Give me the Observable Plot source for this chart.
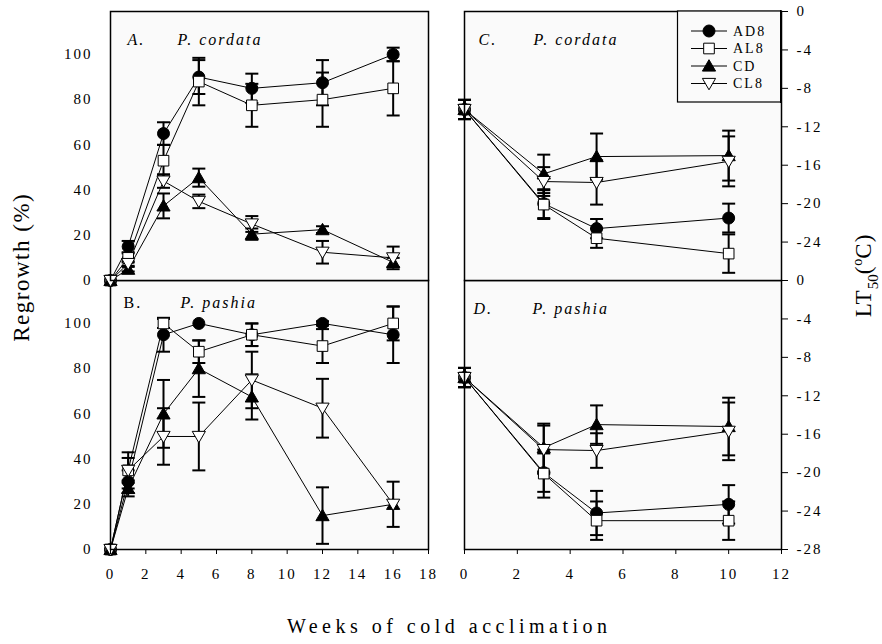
<!DOCTYPE html>
<html><head><meta charset="utf-8">
<script src="https://cdn.jsdelivr.net/npm/d3@7"></script>
<script src="https://cdn.jsdelivr.net/npm/@observablehq/plot@0.6"></script>
<style>
body{margin:0;background:#fff;}
#root{position:relative;width:882px;height:644px;background:#fff;font-family:"Liberation Serif","DejaVu Serif","Times New Roman",serif;color:#000;overflow:hidden;}
.panel{position:absolute;}
.lbl{position:absolute;white-space:nowrap;line-height:1;}
svg text{font-family:"Liberation Serif","DejaVu Serif","Times New Roman",serif;}
</style></head><body><div id="root"></div>
<script>
// ---------- data ----------
const seriesNames = ["AD8", "AL8", "CD", "CL8"];
const weeksRegrowth = [0, 1, 3, 5, 8, 12, 16];
const weeksLT50 = [0, 3, 5, 10];
const xTicksRegrowth = [0, 2, 4, 6, 8, 10, 12, 14, 16, 18];
const xTicksLT50 = [0, 2, 4, 6, 8, 10, 12];
const yTicksRegrowth = [0, 20, 40, 60, 80, 100];
const yTicksLT50Top = [0, -4, -8, -12, -16, -20, -24];
const yTicksLT50Bottom = [0, -4, -8, -12, -16, -20, -24, -28];
const panelLetters = ["A.", "B.", "C.", "D."];
const panelSpecies = ["P. cordata", "P. pashia", "P. cordata", "P. pashia"];

// Regrowth (%), rows: AD8, AL8, CD, CL8
const regrowthCordata = [
  [0, 15, 65, 90, 85, 87.5, 100],
  [0, 10, 53, 88, 77.5, 80, 85],
  [0, 5, 33, 45.5, 20.5, 22.5, 8],
  [0, 7.5, 44, 35, 25, 12.5, 10]
];
const regrowthCordataErr = [
  [0, 2.5, 5, 7.5, 6.5, 10, 3],
  [0, 2, 7, 10.5, 9.5, 12, 12],
  [0, 1, 5.5, 4, 2.5, 1.5, 2],
  [0, 1, 3, 3, 3.5, 5, 5]
];
const regrowthPashia = [
  [0, 30, 95, 100, 95, 100, 95],
  [0, 35, 100, 87.5, 95, 90, 100],
  [0, 27, 60, 80, 67.5, 15, 20],
  [0, 35, 50, 50, 75, 62.5, 20]
];
const regrowthPashiaErr = [
  [0, 5, 7.5, 0, 5, 1, 12.5],
  [0, 8, 2, 5, 5, 7.5, 7.5],
  [0, 3.5, 15, 12.5, 10, 12.5, 0],
  [0, 5.5, 12.5, 15, 12.5, 13, 10]
];
// LT50 (°C), rows: AD8, AL8, CD, CL8
const lt50Cordata = [
  [-10.2, -20.0, -22.6, -21.5],
  [-10.2, -20.1, -23.6, -25.2],
  [-10.2, -16.9, -15.1, -15.0],
  [-10.2, -17.7, -17.8, -15.6]
];
const lt50CordataErr = [
  [1, 1.5, 1, 1.5],
  [1, 1.5, 1, 2],
  [1, 2, 2.4, 2.6],
  [1, 1.5, 2.3, 2.6]
];
const lt50Pashia = [
  [-10.1, -20.0, -24.2, -23.3],
  [-10.1, -20.1, -25.0, -25.0],
  [-10.1, -17.4, -15.0, -15.2],
  [-10.1, -17.6, -17.7, -15.7]
];
const lt50PashiaErr = [
  [1, 2, 2.3, 2],
  [1, 2.5, 2, 2],
  [1, 2.5, 2, 3],
  [1, 2.5, 1.8, 3]
];

// ---------- symbols ----------
const triUp = {draw(ctx, size) { const r = Math.sqrt(size / Math.PI);
  ctx.moveTo(0, -r * 1.05); ctx.lineTo(r * 1.1, r * 0.85); ctx.lineTo(-r * 1.1, r * 0.85); ctx.closePath(); }};
const triDown = {draw(ctx, size) { const r = Math.sqrt(size / Math.PI);
  ctx.moveTo(0, r * 1.05); ctx.lineTo(r * 1.1, -r * 0.85); ctx.lineTo(-r * 1.1, -r * 0.85); ctx.closePath(); }};
const capLine = {draw(ctx, size) { const r = Math.sqrt(size / Math.PI);
  ctx.moveTo(-r, 0); ctx.lineTo(r, 0); }};
const seriesSymbols = [d3.symbolCircle, d3.symbolSquare, triUp, triDown];
const seriesFills = ["black", "white", "black", "white"];
const FONT = "'Liberation Serif','DejaVu Serif','Times New Roman',serif";

function toRows(xs, vals, errs) {
  const rows = [];
  seriesNames.forEach((s, i) => xs.forEach((x, j) => {
    const v = vals[i][j], e = errs[i][j];
    rows.push({series: s, si: i, x, y: v, e, lo: v - e, hi: v + e});
  }));
  return rows;
}

const root = document.getElementById("root");

function makePanel(o) {
  const rows = toRows(o.xs, o.vals, o.errs);
  const withErr = rows.filter(d => d.e > 0);
  const marks = [
    Plot.frame({fill: "#fafafa", stroke: "none"}),
    Plot.line(rows, {x: "x", y: "y", z: "series", stroke: "black", strokeWidth: 1}),
    Plot.ruleX(withErr, {x: "x", y1: "lo", y2: "hi", stroke: "black", strokeWidth: 2}),
    Plot.dot(withErr, {x: "x", y: "lo", symbol: capLine, r: 6.5, fill: "none", stroke: "black", strokeWidth: 2}),
    Plot.dot(withErr, {x: "x", y: "hi", symbol: capLine, r: 6.5, fill: "none", stroke: "black", strokeWidth: 2}),
    ...seriesNames.map((s, i) => Plot.dot(rows.filter(d => d.si === i),
      {x: "x", y: "y", symbol: seriesSymbols[i], r: 6, fill: seriesFills[i], stroke: "black", strokeWidth: 1})),
    Plot.frame({stroke: "black", strokeWidth: 1.5}),
    Plot.text([panelLetters[o.idx]], {frameAnchor: "top-left", text: d => d, dx: o.ldx, dy: o.ldy,
      textAnchor: "start", fontSize: 16, fontFamily: FONT, fontStyle: o.letterItalic ? "italic" : "normal"}),
    Plot.text([panelSpecies[o.idx]], {frameAnchor: "top-left", text: d => d, dx: o.sdx, dy: o.ldy,
      textAnchor: "start", fontSize: 16, fontFamily: FONT, fontStyle: "italic"})
  ];
  if (o.yAnchor === "left") {
    marks.push(Plot.axisY({anchor: "left", ticks: o.yTicks, tickSize: 0, tickPadding: 18, label: null,
      fontFamily: FONT, tickFormat: d => String(d)}));
  } else {
    marks.push(Plot.axisY({anchor: "right", ticks: o.yTicks, tickSize: 6, tickPadding: 9, label: null,
      fontFamily: FONT, tickFormat: d => String(d)}));
  }
  if (o.xTicks) {
    marks.push(Plot.axisX({anchor: "bottom", ticks: o.xTicks, tickSize: 5, tickPadding: 14, label: null,
      fontFamily: FONT, tickFormat: d => String(d)}));
  }
  const chart = Plot.plot({
    width: o.width, height: o.height,
    marginTop: o.mt, marginBottom: o.mb, marginLeft: o.ml, marginRight: o.mr,
    x: {domain: o.xDomain, axis: null},
    y: {domain: o.yDomain, axis: null},
    style: "font-family:" + FONT + ";font-size:15px;letter-spacing:2px;background:transparent;overflow:visible;color:black;",
    marks
  });
  const wrap = document.createElement("div");
  wrap.className = "panel";
  wrap.style.left = o.left + "px";
  wrap.style.top = o.top + "px";
  wrap.style.width = o.width + "px";
  wrap.style.height = o.height + "px";
  wrap.appendChild(chart);
  root.appendChild(wrap);
}

// bottom panels first so the top panels' markers at 0 overlap the divider
makePanel({idx: 1, left: 0, top: 270, width: 440, height: 330, mt: 10, mb: 51, ml: 110, mr: 12,
  xs: weeksRegrowth, vals: regrowthPashia, errs: regrowthPashiaErr, xDomain: [0, 18], yDomain: [0, 119],
  yAnchor: "left", yTicks: yTicksRegrowth, xTicks: xTicksRegrowth, ldx: 13, sdx: 70, ldy: 16, letterItalic: false});
makePanel({idx: 0, left: 0, top: 0, width: 440, height: 290, mt: 11, mb: 10, ml: 110, mr: 12,
  xs: weeksRegrowth, vals: regrowthCordata, errs: regrowthCordataErr, xDomain: [0, 18], yDomain: [0, 119],
  yAnchor: "left", yTicks: yTicksRegrowth, xTicks: null, ldx: 17, sdx: 67, ldy: 22, letterItalic: true});
makePanel({idx: 3, left: 440, top: 270, width: 442, height: 330, mt: 10, mb: 51, ml: 24, mr: 101,
  xs: weeksLT50, vals: lt50Pashia, errs: lt50PashiaErr, xDomain: [0, 12], yDomain: [-28, 0],
  yAnchor: "right", yTicks: yTicksLT50Bottom, xTicks: xTicksLT50, ldx: 9, sdx: 68, ldy: 22, letterItalic: true});
makePanel({idx: 2, left: 440, top: 0, width: 442, height: 290, mt: 11, mb: 10, ml: 24, mr: 101,
  xs: weeksLT50, vals: lt50Cordata, errs: lt50CordataErr, xDomain: [0, 12], yDomain: [-28, 0],
  yAnchor: "right", yTicks: yTicksLT50Top, xTicks: null, ldx: 14, sdx: 69, ldy: 22, letterItalic: true});

// ---------- legend ----------
const leg = d3.select(root).append("svg")
  .attr("width", 882).attr("height", 644)
  .style("position", "absolute").style("left", "0px").style("top", "0px")
  .style("font-family", FONT);
leg.append("rect").attr("x", 677.5).attr("y", 11).attr("width", 103.5).attr("height", 91)
  .attr("fill", "#fafafa").attr("stroke", "black").attr("stroke-width", 1.2);
const legY = [31, 48.5, 66, 83.5];
seriesNames.forEach((s, i) => {
  const g = leg.append("g").attr("transform", `translate(0,${legY[i]})`);
  g.append("line").attr("x1", 691).attr("x2", 727).attr("stroke", "black").attr("stroke-width", 1);
  g.append("path").attr("transform", "translate(709,0)")
    .attr("d", d3.symbol(seriesSymbols[i], Math.PI * 36)())
    .attr("fill", seriesFills[i]).attr("stroke", "black").attr("stroke-width", 1);
  g.append("text").attr("x", 733).attr("dy", "0.35em").attr("font-size", 14)
    .attr("letter-spacing", "2px").text(s);
});
leg.append("rect").attr("x", 780).attr("y", 10).attr("width", 1.5).attr("height", 93).attr("fill", "black");

// ---------- axis titles ----------
function addLabel(html, cx, cy, size, rotate, spacing) {
  const d = document.createElement("div");
  d.className = "lbl";
  d.innerHTML = html;
  d.style.fontSize = size + "px";
  d.style.letterSpacing = spacing + "px";
  d.style.paddingLeft = spacing + "px";
  d.style.left = cx + "px";
  d.style.top = cy + "px";
  d.style.transform = `translate(-50%,-50%)` + (rotate ? " rotate(-90deg)" : "");
  root.appendChild(d);
}
addLabel("Regrowth (%)", 21, 268, 23, true, 1.5);
addLabel('LT<span style="font-size:15px;position:relative;top:7px;letter-spacing:0">50</span>(<span style="font-size:14px;position:relative;top:-9px;letter-spacing:0">o</span>C)', 863, 276, 23, true, 1);
addLabel("Weeks of cold acclimation", 447, 626, 20, false, 4.5);
</script></body></html>
